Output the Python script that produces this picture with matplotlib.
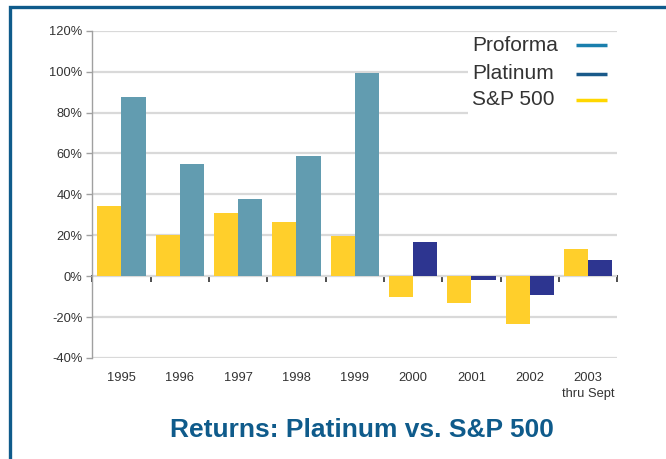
import numpy as np
import matplotlib
matplotlib.use('Agg')
import matplotlib.pyplot as plt
from matplotlib.patches import Rectangle

# ================================
# Data (annual returns, %)
# ================================
years = ['1995', '1996', '1997', '1998', '1999', '2000', '2001', '2002', '2003\nthru Sept']
sp500 = [34.1, 20.3, 31.0, 26.7, 19.5, -10.1, -13.0, -23.4, 13.2]
proforma_years = ['1995', '1996', '1997', '1998', '1999']
proforma = [87.5, 54.8, 37.8, 58.6, 99.5]
platinum_years = ['2000', '2001', '2002', '2003\nthru Sept']
platinum = [16.5, -2.0, -9.2, 7.7]
yticks = [-40, -20, 0, 20, 40, 60, 80, 100, 120]
legend_labels = ['Proforma', 'Platinum', 'S&P 500']

# ================================
# Style
# ================================
plt.rcParams['font.family'] = ['Liberation Sans', 'DejaVu Sans']
C_SP = '#ffcf2b'
C_PRO = '#629cb0'
C_PLAT = '#2d3590'
C_FRAME = '#0f5b8b'
LEG_COLORS = ['#1a7fad', '#1a5a8a', '#ffd700']
TXT = '#333333'
BAR_W = 0.415

fig = plt.figure(figsize=(6.66, 4.59), dpi=100)
ax = fig.add_axes([92.3 / 666, 101 / 459, 525 / 666, 327.3 / 459])

x = np.arange(len(years))
x_pro = np.array([years.index(y) for y in proforma_years])
x_plat = np.array([years.index(y) for y in platinum_years])

ax.bar(x - BAR_W / 2, sp500, BAR_W, color=C_SP, zorder=2)
ax.bar(x_pro + BAR_W / 2, proforma, BAR_W, color=C_PRO, zorder=2)
ax.bar(x_plat + BAR_W / 2, platinum, BAR_W, color=C_PLAT, zorder=2)

ax.set_xlim(-0.5, len(years) - 0.5)
ax.set_ylim(yticks[0], yticks[-1])
ax.set_yticks(yticks)
ax.set_yticklabels([f'{v}%' for v in yticks], fontsize=9.3, color=TXT)
ax.set_xticks(x)
ax.set_xticklabels(years, fontsize=9.3, color=TXT, linespacing=1.5, va='top')
ax.tick_params(axis='x', length=0, pad=10)
ax.tick_params(axis='y', length=4, color='#a0a0a0', width=1, pad=3)

ax.grid(axis='y', color='#d9d9d9', lw=1.6, zorder=0)
ax.set_axisbelow(True)
for s in ['top', 'right', 'bottom']:
    ax.spines[s].set_visible(False)
ax.spines['left'].set_color('#a0a0a0')
ax.spines['left'].set_linewidth(1.0)

# zero axis with category boundary ticks
zero_loc = (0 - yticks[0]) / (yticks[-1] - yticks[0])
zax = ax.secondary_xaxis(zero_loc)
zax.set_xticks(np.arange(-0.5, len(years), 1.0))
zax.set_xticklabels([])
zax.tick_params(axis='x', direction='out', length=4, width=1.2, color='#303030')
zax.spines['bottom'].set_color('#404040')
zax.spines['bottom'].set_linewidth(1.4)
zax.spines['bottom'].set_zorder(3)

# legend: text on the left, line sample on the right, white box over the grid
ax.add_patch(Rectangle((0.7156, 0.7424), 0.2838, 0.2506, transform=ax.transAxes,
                       facecolor='white', edgecolor='none', zorder=4))
row_y = [0.9554, 0.8686, 0.7883]
for lab, col, yy in zip(legend_labels, LEG_COLORS, row_y):
    ax.text(0.7232, yy, lab, transform=ax.transAxes, ha='left', va='center',
            fontsize=15, color=TXT, zorder=5)
    ax.plot([0.9213, 0.9804], [yy, yy], transform=ax.transAxes, color=col,
            lw=2.5, solid_capstyle='butt', zorder=5, clip_on=False)

# title and frame
fig.text(362 / 666, 29 / 459, 'Returns: Platinum vs. S&P 500', ha='center', va='center',
         fontsize=19, fontweight='bold', color=C_FRAME)
fig.patches.append(Rectangle((9.5 / 666, -0.2), 1.5, (459 - 6.5) / 459 + 0.2,
                             transform=fig.transFigure, fill=False,
                             edgecolor=C_FRAME, lw=2.4))

fig.savefig('out.png', dpi=100)
